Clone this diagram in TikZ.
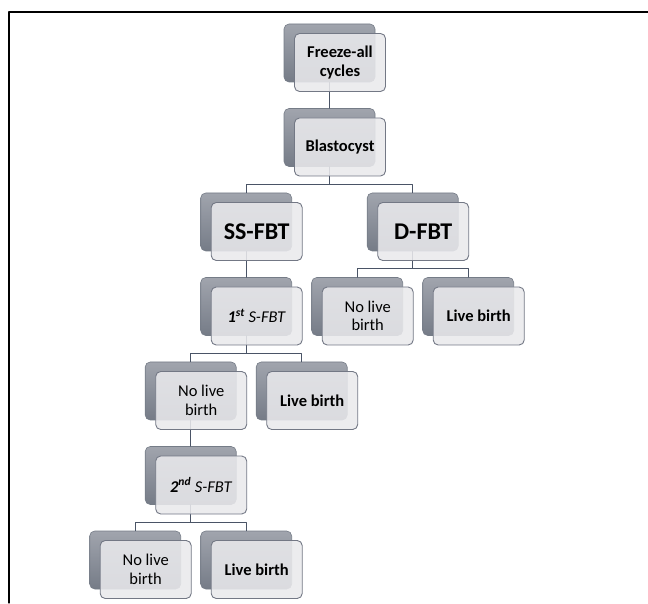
\documentclass[tikz,border=0pt]{standalone}
\usepackage{fontspec}
\setmainfont{Carlito}
\definecolor{wwwwxx}{rgb}{0.63,0.645,0.68}
\definecolor{ttttww}{rgb}{0.46,0.485,0.53}
\definecolor{eeeeff}{rgb}{0.915,0.915,0.925}
\definecolor{qqwwtt}{rgb}{0.45,0.47,0.52}
\definecolor{ttwwzz}{rgb}{0.29,0.33,0.4}
\begin{document}
\begin{tikzpicture}[x=1pt,y=1pt,line cap=round,line join=round,
  back/.style={rounded corners=5pt,minimum width=91pt,minimum height=58pt,inner sep=0pt,top color=wwwwxx,bottom color=ttttww,draw=ttttww,line width=0.6pt},
  front/.style={rounded corners=5pt,minimum width=91pt,minimum height=58pt,inner sep=0pt,fill=eeeeff,fill opacity=0.88,text opacity=1,draw=qqwwtt,line width=0.9pt,align=center},
  txt/.style={font=\fontsize{16.5}{18.5}\selectfont},
  btxt/.style={font=\fontsize{16.5}{18.5}\selectfont\bfseries},
  big/.style={font=\fontsize{24}{28}\selectfont\bfseries},
  conn/.style={draw=ttwwzz,line width=1pt}]
\useasboundingbox (0,0) rectangle (648,603);
\draw [line width=1.3pt] (9,0) -- (9,591) -- (648,591);
% back boxes
\node[back] (fac) at (329.5,550) {};
\node[back] (blast) at (329.5,465.5) {};
\node[back] (ssfbt) at (246.2,381) {};
\node[back] (dfbt) at (412.7,381) {};
\node[back] (dno) at (357.2,296.5) {};
\node[back] (dlive) at (468.2,296.5) {};
\node[back] (sone) at (246.2,296.5) {};
\node[back] (soneno) at (190.7,212) {};
\node[back] (sonelive) at (301.7,212) {};
\node[back] (stwo) at (190.7,127.5) {};
\node[back] (stwono) at (135.2,43) {};
\node[back] (stwolive) at (246.2,43) {};
% connectors
\draw[conn] (fac.south) -- (blast.north);
\draw[conn] (blast.south) -- ++(0,-17.5) -| (ssfbt.north);
\draw[conn] (blast.south) -- ++(0,-17.5) -| (dfbt.north);
\draw[conn] (dfbt.south) -- ++(0,-17.5) -| (dno.north);
\draw[conn] (dfbt.south) -- ++(0,-17.5) -| (dlive.north);
\draw[conn] (ssfbt.south) -- (sone.north);
\draw[conn] (sone.south) -- ++(0,-17.5) -| (soneno.north);
\draw[conn] (sone.south) -- ++(0,-17.5) -| (sonelive.north);
\draw[conn] (soneno.south) -- (stwo.north);
\draw[conn] (stwo.south) -- ++(0,-17.5) -| (stwono.north);
\draw[conn] (stwo.south) -- ++(0,-17.5) -| (stwolive.north);
% front boxes
\node[front,btxt] (fac-f) at ([shift={(10.5,-9.5)}]fac.center) {Freeze-all\\cycles};
\node[front,btxt] (blast-f) at ([shift={(10.5,-9.5)}]blast.center) {Blastocyst};
\node[front,big] (ssfbt-f) at ([shift={(10.5,-9.5)}]ssfbt.center) {SS-FBT};
\node[front,big] (dfbt-f) at ([shift={(10.5,-9.5)}]dfbt.center) {D-FBT};
\node[front,txt] (dno-f) at ([shift={(10.5,-9.5)}]dno.center) {No live\\birth};
\node[front,btxt] (dlive-f) at ([shift={(10.5,-9.5)}]dlive.center) {Live birth};
\node[front,txt] (sone-f) at ([shift={(10.5,-9.5)}]sone.center) {\textit{\textbf{1}\textsuperscript{\textbf{st}} S-FBT}};
\node[front,txt] (soneno-f) at ([shift={(10.5,-9.5)}]soneno.center) {No live\\birth};
\node[front,btxt] (sonelive-f) at ([shift={(10.5,-9.5)}]sonelive.center) {Live birth};
\node[front,txt] (stwo-f) at ([shift={(10.5,-9.5)}]stwo.center) {\textit{\textbf{2}\textsuperscript{\textbf{nd}} S-FBT}};
\node[front,txt] (stwono-f) at ([shift={(10.5,-9.5)}]stwono.center) {No live\\birth};
\node[front,btxt] (stwolive-f) at ([shift={(10.5,-9.5)}]stwolive.center) {Live birth};
\end{tikzpicture}
\end{document}
